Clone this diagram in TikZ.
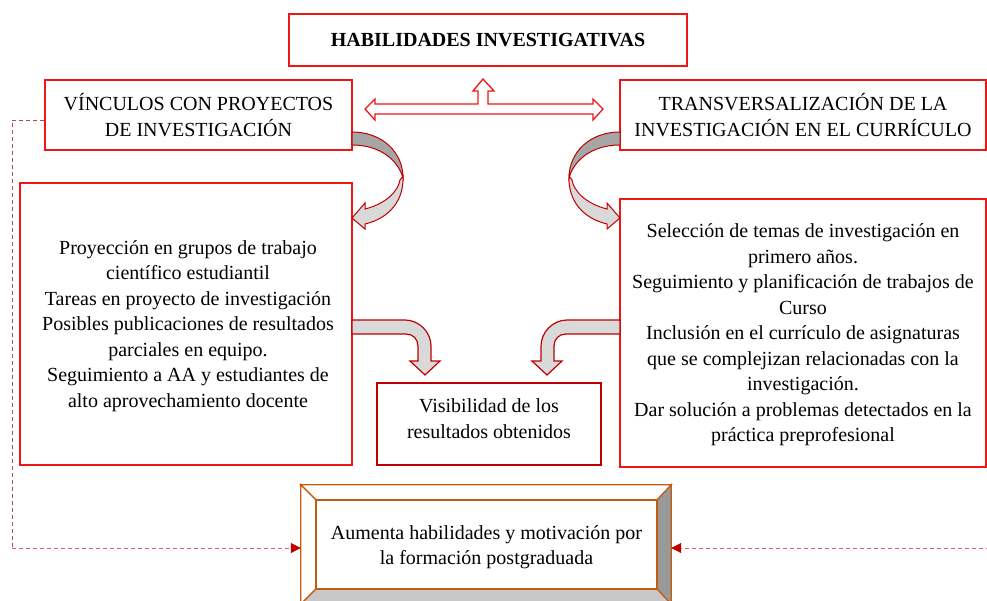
\documentclass[tikz,border=0pt]{standalone}
\usepackage{fontspec}
\setmainfont{Liberation Serif}
\usetikzlibrary{calc,arrows.meta}
\definecolor{boxred}{RGB}{236,24,24}
\definecolor{darkred}{HTML}{C00000}
\definecolor{lgray}{HTML}{D9D9D9}
\definecolor{dgray}{HTML}{A6A6A6}
\definecolor{bevelor}{HTML}{C55A11}
\definecolor{bevgray}{HTML}{999999}
\definecolor{bevlgray}{HTML}{C8C8C8}
\definecolor{dashbrown}{HTML}{A4505C}
\definecolor{dashred}{HTML}{E4606A}
\begin{document}
\begin{tikzpicture}[x=1pt,y=-1pt,
  font={\fontsize{20}{25.5}\selectfont},
  box/.style={draw=boxred, line width=1.5pt, fill=white, align=center, inner sep=0pt},
  visbox/.style={draw=darkred, line width=1.5pt, fill=white, inner sep=0pt},
  blockarrow/.style={draw=boxred, line width=1.3pt, fill=white, line join=miter},
  curlband/.style={draw=darkred, line width=1pt},
  bentarrow/.style={draw=darkred, line width=1.2pt, fill=lgray, line join=miter},
  bevelface/.style={draw=bevelor, line width=1.2pt},
  dashline/.style={line width=1pt, dash pattern=on 4pt off 3pt},
  tip/.style={-{Triangle[length=10pt,width=10pt,color=darkred,fill=darkred]}}
]
\clip (0,0) rectangle (987,600);
\fill[white] (0,0) rectangle (987,600);

% boxes
\node[box, minimum width=398pt, minimum height=52pt] (title) at (488,40)
  {\textbf{HABILIDADES INVESTIGATIVAS}};
\node[box, minimum width=307pt, minimum height=70pt] (vinc) at (198.5,115)
  {VÍNCULOS CON PROYECTOS\\DE INVESTIGACIÓN};
\node[box, minimum width=366pt, minimum height=70pt] (trans) at (803,115)
  {TRANSVERSALIZACIÓN DE LA\\INVESTIGACIÓN EN EL CURRÍCULO};
\node[box, minimum width=332pt, minimum height=282pt] (left) at (186,324) {};
\node[align=center, inner sep=0pt] (lefttext) at (188,326)
  {Proyección en grupos de trabajo\\científico estudiantil\\Tareas en proyecto de investigación\\Posibles publicaciones de resultados\\parciales en equipo.\\Seguimiento a AA y estudiantes de\\alto aprovechamiento docente};
\node[box, minimum width=366pt, minimum height=268pt] (right) at (803,333) {};
\node[align=center, inner sep=0pt] (righttext) at (803,335)
  {Selección de temas de investigación en\\primero años.\\Seguimiento y planificación de trabajos de\\Curso\\Inclusión en el currículo de asignaturas\\que se complejizan relacionadas con la\\investigación.\\Dar solución a problemas detectados en la\\práctica preprofesional};
\node[visbox, minimum width=224pt, minimum height=82pt] (vis) at (489,424) {};
\node[align=center, inner sep=0pt] (vistext) at (489,418.5)
  {Visibilidad de los\\resultados obtenidos};

% bevel box
\node[minimum width=370pt, minimum height=119pt, inner sep=0pt] (bevel) at (486,544.5) {};
\path[bevelface, fill=white] (bevel.north west) -- (bevel.north east) -- (657,500) -- (316,500) -- cycle;
\path[bevelface, fill=white] (bevel.north west) -- (bevel.south west) -- (316,589) -- (316,500) -- cycle;
\path[bevelface, fill=bevgray] (bevel.north east) -- (bevel.south east) -- (657,589) -- (657,500) -- cycle;
\path[bevelface, fill=bevlgray] (bevel.south west) -- (bevel.south east) -- (657,589) -- (316,589) -- cycle;
\node[draw=bevelor, line width=1.2pt, fill=white, inner sep=0pt,
  minimum width=341pt, minimum height=89pt] (aum) at (486.5,544.5) {};
\node[align=center, inner sep=0pt] (aumtext) at (486.5,547)
  {Aumenta habilidades y motivación por\\la formación postgraduada};

% double/up block arrow
\draw[blockarrow] (365,109) -- (375,99) -- (375,104) -- (478,104) -- (478,91) -- (473,91)
  -- (483,79) -- (494,91) -- (488,91) -- (488,104) -- (593,104) -- (593,99) -- (603,109)
  -- (593,120) -- (593,114) -- (375,114) -- (375,120) -- cycle;

% curled arrows
\foreach \sh/\sc in {0/1, 972/-1}{
  \begin{scope}[xshift=\sh pt, xscale=\sc]
    \draw[curlband, fill=dgray] (352,132) .. controls (382,132) and (403,152) .. (403,178)
      .. controls (398,160) and (380,145) .. (352,145) -- cycle;
    \draw[curlband, fill=lgray, line join=miter] (403,176) .. controls (404,200) and (390,218) .. (365,224)
      -- (365,229) -- (352,218) -- (365,203) -- (365,209)
      .. controls (385,204) and (398,192) .. (400,180) -- cycle;
  \end{scope}
}

% bent arrows
\foreach \sh/\sc in {0/1, 972/-1}{
  \begin{scope}[xshift=\sh pt, xscale=\sc]
    \draw[bentarrow] (352,320) -- (405,320) .. controls (419,320) and (431,332) .. (431,346)
      -- (431,361) -- (440,361) -- (425,375) -- (410,361) -- (418,361) -- (418,346)
      .. controls (418,339) and (413,334) .. (406,334) -- (352,334) -- cycle;
  \end{scope}
}

% dashed connectors
\coordinate (lc) at (12,548);
\coordinate (rc) at (990,548);
\draw[dashline, dashbrown] ($(vinc.west)+(0,5)$) -| (lc);
\draw[dashline, dashred, tip] (lc) -- (bevel.west |- lc);
\draw[dashline, dashred, tip] (rc) -- (bevel.east |- rc);
\end{tikzpicture}
\end{document}
